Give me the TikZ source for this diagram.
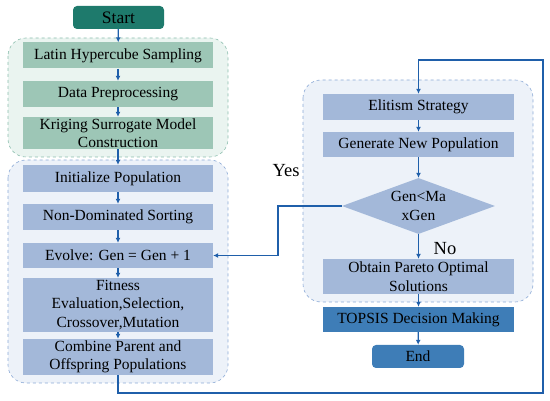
\documentclass[tikz,border=0pt]{standalone}
\usepackage{fontspec}
\setmainfont{Liberation Serif}
\usepackage{tikz}
\usetikzlibrary{shapes.geometric,arrows.meta}

\definecolor{startc}{RGB}{30,122,108}
\definecolor{greenbox}{RGB}{157,198,182}
\definecolor{greenbg}{RGB}{234,244,240}
\definecolor{greenln}{RGB}{140,190,174}
\definecolor{bluebox}{RGB}{163,184,217}
\definecolor{bluebg}{RGB}{237,242,249}
\definecolor{blueln}{RGB}{140,170,214}
\definecolor{arrowc}{RGB}{31,95,170}
\definecolor{darkbox}{RGB}{62,125,183}

\tikzset{
  gbox/.style={fill=greenbox, minimum width=190pt, minimum height=26pt, inner sep=1pt, align=center},
  bbox/.style={fill=bluebox, minimum width=190pt, minimum height=26pt, inner sep=1pt, align=center},
  grp/.style={dashed, rounded corners=18pt, line width=0.6pt},
  flow/.style={draw=arrowc, line width=1.2pt, -{Latex[length=5pt,width=5pt]}},
  loopline/.style={draw=arrowc, line width=1.6pt},
  lbl/.style={font=\fontsize{18.5}{20}\selectfont},
}

\begin{document}
\begin{tikzpicture}[x=1pt,y=-1pt,font=\fontsize{15.5}{18.5}\selectfont]
\useasboundingbox (0,0) rectangle (550,401);

% groups
\draw[grp, draw=greenln, fill=greenbg] (8,38) rectangle (228,157);
\draw[grp, draw=blueln, fill=bluebg] (8,160) rectangle (228,383);
\draw[grp, draw=blueln, fill=bluebg] (303,80) rectangle (533,302);

% left column
\node[fill=startc, rounded corners=4pt, minimum width=91pt, minimum height=23pt, font=\fontsize{17.5}{20}\selectfont] (start) at (118.5,17.5) {Start};
\node[gbox] (lhs) at (118,55.5) {Latin Hypercube Sampling};
\node[gbox] (prep) at (118,94) {Data Preprocessing};
\node[gbox, minimum height=32pt] (krig) at (118,133) {Kriging Surrogate Model\\Construction};
\node[bbox, minimum height=27pt] (init) at (118,178.5) {Initialize Population};
\node[bbox] (sort) at (118,217) {Non-Dominated Sorting};
\node[bbox, minimum height=25pt] (evol) at (118,255.5) {Evolve: Gen = Gen + 1};
\node[bbox, minimum height=54pt] (fit) at (118,305) {Fitness\\Evaluation,Selection,\\Crossover,Mutation};
\node[bbox, minimum height=36pt] (comb) at (118,357) {Combine Parent and\\Offspring Populations};

% right column
\node[bbox, minimum width=191pt] (elit) at (418.5,107) {Elitism Strategy};
\node[bbox, minimum width=191pt, minimum height=25pt] (newpop) at (418.5,144.5) {Generate New Population};
\node[diamond, fill=bluebox, aspect=2.7, inner sep=0pt, minimum width=153pt, minimum height=56pt, align=center] (gen) at (418.5,206) {Gen<Ma\\xGen};
\node[bbox, minimum width=191pt, minimum height=35pt] (pareto) at (418.5,276.5) {Obtain Pareto Optimal\\Solutions};
\node[fill=darkbox, minimum width=191pt, minimum height=25pt] (topsis) at (418.5,319.5) {TOPSIS Decision Making};
\node[fill=darkbox, rounded corners=4pt, minimum width=92pt, minimum height=23pt] (end) at (418,356.5) {End};

\node[lbl] (yes) at (286,171) {Yes};
\node[lbl] (no) at (445,249) {No};

% arrows
\draw[flow] (start) -- (lhs);
\draw[flow] (lhs) -- (prep);
\draw[flow] (prep) -- (krig);
\draw[flow] (krig) -- (init);
\draw[flow] (init) -- (sort);
\draw[flow] (sort) -- (evol);
\draw[flow] (evol) -- (fit);
\draw[flow] (fit) -- (comb);
\draw[flow] (elit) -- (newpop);
\draw[flow] (newpop) -- (gen);
\draw[flow] (gen) -- (pareto);
\draw[flow] (pareto) -- (topsis);
\draw[flow] (topsis) -- (end);

% loops
\coordinate (lowleft) at (118,393);
\coordinate (lowright) at (543,393);
\coordinate (topright) at (543,60);
\coordinate (yesturn) at (278,206);
\draw[loopline, -{Latex[length=5pt,width=5pt]}] (comb.south) -- (lowleft) -- (lowright) -- (topright) -| (elit.north);
\draw[loopline, -{Latex[length=5pt,width=5pt]}] (gen.west) -- (yesturn) |- (evol.east);

\end{tikzpicture}
\end{document}
